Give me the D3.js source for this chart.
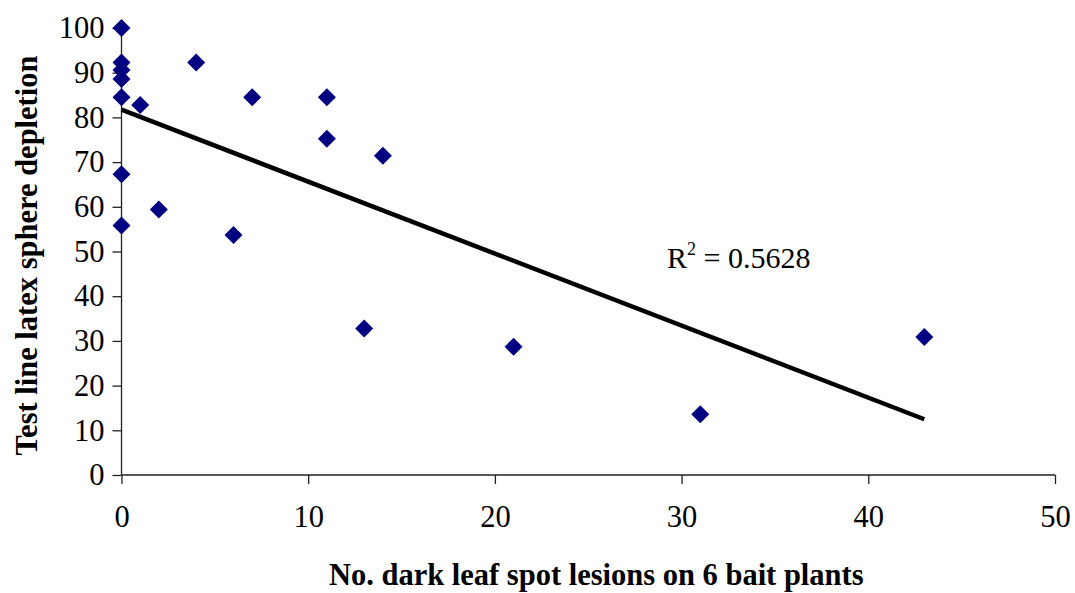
<!DOCTYPE html>
<html>
<head>
<meta charset="utf-8">
<script src="https://cdn.jsdelivr.net/npm/d3@7"></script>
<style>
  body { margin: 0; background: #fff; }
  svg text { font-family: "Liberation Serif", "Times New Roman", serif; }
</style>
</head>
<body>
<script>
// lesions on 6 bait plants vs. latex sphere depletion
var lesions   = [0, 0, 0, 0, 0, 0, 0, 1, 2, 4, 6, 7, 11, 11, 13, 14, 21, 31, 43];
var depletion = [100, 92.3, 90.6, 88.6, 84.5, 67.3, 55.8, 82.8, 59.4, 92.3, 53.7, 84.5, 84.5, 75.2, 32.8, 71.4, 28.7, 13.6, 30.9];
var xTicks = [0, 10, 20, 30, 40, 50];
var yTicks = [0, 10, 20, 30, 40, 50, 60, 70, 80, 90, 100];
var r2Label = "0.5628";

var width = 1075, height = 593;
var pLeft = 121.5, pRight = 1055, pTop = 28, pBottom = 475;

var svg = d3.select("body").append("svg")
  .attr("width", width)
  .attr("height", height);

var x = d3.scaleLinear().domain([0, 50]).range([pLeft, pRight]);
var y = d3.scaleLinear().domain([0, 100]).range([pBottom, pTop]);

var yAxis = svg.append("g")
  .attr("transform", "translate(" + pLeft + ",0)")
  .call(d3.axisLeft(y).tickValues(yTicks).tickSize(9).tickPadding(8));
var xAxis = svg.append("g")
  .attr("transform", "translate(0," + pBottom + ")")
  .call(d3.axisBottom(x).tickValues(xTicks).tickSize(9).tickPadding(21));

[xAxis, yAxis].forEach(function (a) {
  a.select(".domain").attr("stroke", "#222").attr("stroke-width", 1.3);
  a.selectAll(".tick line").attr("stroke", "#222").attr("stroke-width", 1.3);
  a.selectAll("text")
    .attr("font-family", "Liberation Serif, serif")
    .attr("font-size", 30.5)
    .attr("fill", "#000");
});
// axis lines cover full range without outer ticks
yAxis.select(".domain").attr("d", "M0," + pBottom + "V" + pTop);
xAxis.select(".domain").attr("d", "M" + pLeft + ",0H" + pRight);

// least squares trend line
var n = lesions.length;
var mx = d3.mean(lesions), my = d3.mean(depletion);
var sxy = 0, sxx = 0;
for (var i = 0; i < n; i++) {
  sxy += (lesions[i] - mx) * (depletion[i] - my);
  sxx += (lesions[i] - mx) * (lesions[i] - mx);
}
var slope = sxy / sxx, icept = my - slope * mx;
var x0 = d3.min(lesions), x1 = d3.max(lesions);

svg.append("line")
  .attr("x1", x(x0)).attr("y1", y(icept + slope * x0))
  .attr("x2", x(x1)).attr("y2", y(icept + slope * x1))
  .attr("stroke", "#000")
  .attr("stroke-width", 4.5);

var pts = lesions.map(function (d, i) { return {x: d, y: depletion[i]}; });
svg.append("g").selectAll("path").data(pts).enter().append("path")
  .attr("d", "M0,-9L9,0L0,9L-9,0Z")
  .attr("transform", function (d) { return "translate(" + x(d.x) + "," + y(d.y) + ")"; })
  .attr("fill", "#000080");

var r2 = svg.append("text")
  .attr("x", 667).attr("y", 268)
  .attr("font-size", 30)
  .attr("fill", "#000");
r2.append("tspan").text("R");
r2.append("tspan").attr("dy", -13).attr("font-size", 18).text("2");
r2.append("tspan").attr("dy", 13).text(" = " + r2Label);

svg.append("text")
  .attr("x", (pLeft + pRight) / 2 + 8).attr("y", 585)
  .attr("text-anchor", "middle")
  .attr("font-size", 30.5)
  .attr("font-weight", "bold")
  .text("No. dark leaf spot lesions on 6 bait plants");

svg.append("text")
  .attr("transform", "translate(37," + ((pTop + pBottom) / 2 + 4) + ") rotate(-90)")
  .attr("text-anchor", "middle")
  .attr("font-size", 30.5)
  .attr("font-weight", "bold")
  .text("Test line latex sphere depletion");
</script>
</body>
</html>
